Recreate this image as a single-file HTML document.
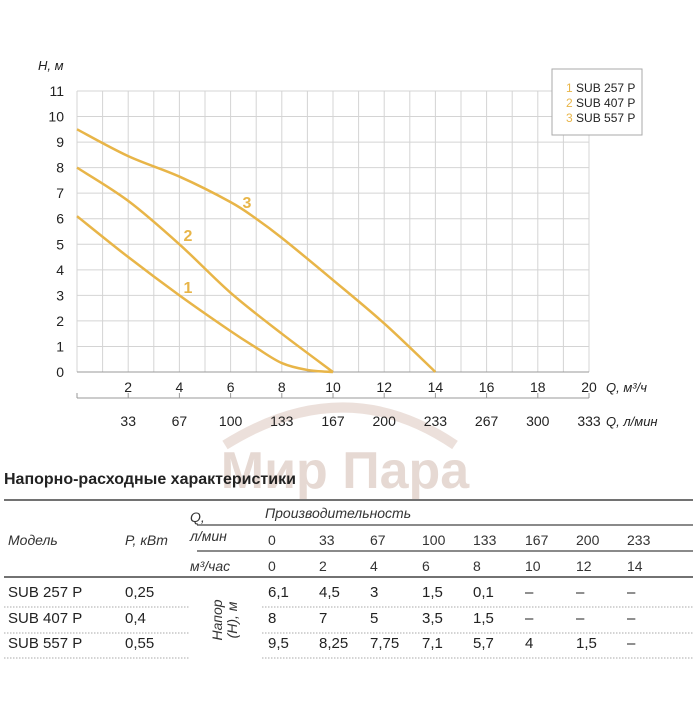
<!DOCTYPE html>
<html><head><meta charset="utf-8"><style>
body{margin:0;background:#fff;width:700px;height:700px;overflow:hidden;font-family:"Liberation Sans Narrow","Liberation Sans",sans-serif;}
svg text{font-family:"Liberation Sans Narrow","Liberation Sans",sans-serif;}
</style></head><body>
<svg id="c" width="700" height="700" viewBox="0 0 700 700">
<g opacity="0.35">
<path d="M225,445 Q345,370 455,445" fill="none" stroke="#c9a99a" stroke-width="10"/>
<text x="345" y="488" font-size="52" font-weight="bold" fill="#b89484" text-anchor="middle" font-family="Liberation Sans">Мир Пара</text>
</g>
</svg>
<script>
const qTicks=[2,4,6,8,10,12,14,16,18,20];
const lTicks=[33,67,100,133,167,200,233,267,300,333];
const hTicks=[0,1,2,3,4,5,6,7,8,9,10,11];
const s1x=[0,2,4,6,7,8,9,10], s1y=[6.1,4.5,3,1.6,0.95,0.35,0.08,0];
const s2x=[0,2,4,6,8,10], s2y=[8,6.7,5,3.1,1.5,0];
const s3x=[0,2,4,6,7,8,10,12,14], s3y=[9.5,8.45,7.65,6.65,6.0,5.25,3.6,1.9,0];
const models=["SUB 257 P","SUB 407 P","SUB 557 P"];
const powers=["0,25","0,4","0,55"];
const flowL=["0","33","67","100","133","167","200","233"];
const flowM=["0","2","4","6","8","10","12","14"];
const heads=[["6,1","4,5","3","1,5","0,1","–","–","–"],["8","7","5","3,5","1,5","–","–","–"],["9,5","8,25","7,75","7,1","5,7","4","1,5","–"]];
const NS="http://www.w3.org/2000/svg";
const svg=document.getElementById('c');
const X0=77,X1=589,Y0=372,Y1=91;
const xs=v=>X0+(X1-X0)*v/20, ys=v=>Y0-(Y0-Y1)*v/11;
function el(t,a,txt){const e=document.createElementNS(NS,t);for(const k in a)e.setAttribute(k,a[k]);if(txt!==undefined)e.textContent=txt;svg.appendChild(e);return e;}
const grid=document.createElementNS(NS,'g');
for(let i=0;i<=20;i++){const l=el('line',{x1:xs(i),x2:xs(i),y1:Y1,y2:Y0,stroke:'#d4d4d4','stroke-width':1});
}
for(let i=0;i<=11;i++){const l=el('line',{x1:X0,x2:X1,y1:ys(i),y2:ys(i),stroke:'#d4d4d4','stroke-width':1});
}
el('line',{x1:X0,x2:X1,y1:Y0,y2:Y0,stroke:'#999'});
hTicks.forEach(v=>{const t=el('text',{x:64,y:ys(v)+5,'font-size':14,'text-anchor':'end',fill:'#222'},v);
});
qTicks.forEach(v=>{const t=el('text',{x:xs(v),y:392,'font-size':14,'text-anchor':'middle',fill:'#222'},v);
});
el('line',{x1:X0,x2:X1,y1:398,y2:398,stroke:'#999'});
el('line',{x1:X0,x2:X0,y1:393,y2:398,stroke:'#999'});
lTicks.forEach((v,i)=>{const x=xs(qTicks[i]);el('line',{x1:x,x2:x,y1:393,y2:398,stroke:'#999'});
const t=el('text',{x:x,y:426,'font-size':14,'text-anchor':'middle',fill:'#222'},v);
});
let t=el('text',{x:606,y:392,'font-size':13,'font-style':'italic',fill:'#222'},'Q, м³/ч');
t=el('text',{x:606,y:426,'font-size':13,'font-style':'italic',fill:'#222'},'Q, л/мин');
t=el('text',{x:38,y:70,'font-size':13,'font-style':'italic',fill:'#222'},'H, м');
function path(xa,ya){const p=xa.map((x,i)=>[xs(x),ys(ya[i])]);let d=`M${p[0][0]},${p[0][1]}`;
for(let i=0;i<p.length-1;i++){const a=p[i-1]||p[i],b=p[i],c=p[i+1],e=p[i+2]||c;
d+=` C${b[0]+(c[0]-a[0])/6},${b[1]+(c[1]-a[1])/6} ${c[0]-(e[0]-b[0])/6},${c[1]-(e[1]-b[1])/6} ${c[0]},${c[1]}`;}return d;}
[[s1x,s1y,'curve-sub-257'],[s2x,s2y,'curve-sub-407'],[s3x,s3y,'curve-sub-557']].forEach(s=>{
const p=el('path',{d:path(s[0],s[1]),fill:'none',stroke:'#e8b548','stroke-width':2.5});
});
[['1',188,293],['2',188,241],['3',247,208]].forEach(a=>{const t=el('text',{x:a[1],y:a[2],'font-size':16,'font-weight':'bold',fill:'#e8b548','text-anchor':'middle'},a[0]);
});
const lb=el('rect',{x:552,y:69,width:90,height:66,fill:'#fff',stroke:'#aaa'});
models.forEach((m,i)=>{const t=el('text',{x:566,y:92+i*15,'font-size':12,fill:'#222'});
t.innerHTML=`<tspan fill="#e8b548">${i+1}</tspan> ${m}`;});
// table
t=el('text',{x:4,y:484,'font-size':16,'font-weight':'bold',fill:'#222'},'Напорно-расходные характеристики');
el('line',{x1:4,x2:693,y1:500,y2:500,stroke:'#444','stroke-width':1.5});
el('line',{x1:197,x2:693,y1:525,y2:525,stroke:'#444','stroke-width':1.2});
el('line',{x1:197,x2:693,y1:551,y2:551,stroke:'#444','stroke-width':1.2});
el('line',{x1:4,x2:693,y1:577,y2:577,stroke:'#444','stroke-width':1.5});
const it={'font-size':14,'font-style':'italic',fill:'#333'};
el('text',Object.assign({x:8,y:545},it),'Модель');el('text',Object.assign({x:125,y:545},it),'P, кВт');
el('text',Object.assign({x:190,y:522},it),'Q,');el('text',Object.assign({x:190,y:541},it),'л/мин');
el('text',Object.assign({x:190,y:571},it),'м³/час');
t=el('text',Object.assign({x:265,y:518},it),'Производительность');
const cx=[268,319,370,422,473,525,576,627];
flowL.forEach((v,i)=>el('text',{x:cx[i],y:545,'font-size':14,fill:'#333'},v));
flowM.forEach((v,i)=>el('text',{x:cx[i],y:571,'font-size':14,fill:'#333'},v));
const ry=[597,623,648];
models.forEach((m,r)=>{const a=el('text',{x:8,y:ry[r],'font-size':15,fill:'#222'},m);
el('text',{x:125,y:ry[r],'font-size':15,fill:'#222'},powers[r]);
heads[r].forEach((v,i)=>el('text',{x:cx[i],y:ry[r],'font-size':15,fill:'#222'},v));
el('line',{x1:4,x2:190,y1:ry[r]+10,y2:ry[r]+10,stroke:'#aaa','stroke-dasharray':'1.5,1.5'});
el('line',{x1:262,x2:693,y1:ry[r]+10,y2:ry[r]+10,stroke:'#aaa','stroke-dasharray':'1.5,1.5'});});
t=el('text',Object.assign({x:0,y:0,transform:'translate(222,620) rotate(-90)','text-anchor':'middle'},it));
t.innerHTML='<tspan x="0" dy="0">Напор</tspan><tspan x="0" dy="15">(H), м</tspan>';

</script>
</body></html>
